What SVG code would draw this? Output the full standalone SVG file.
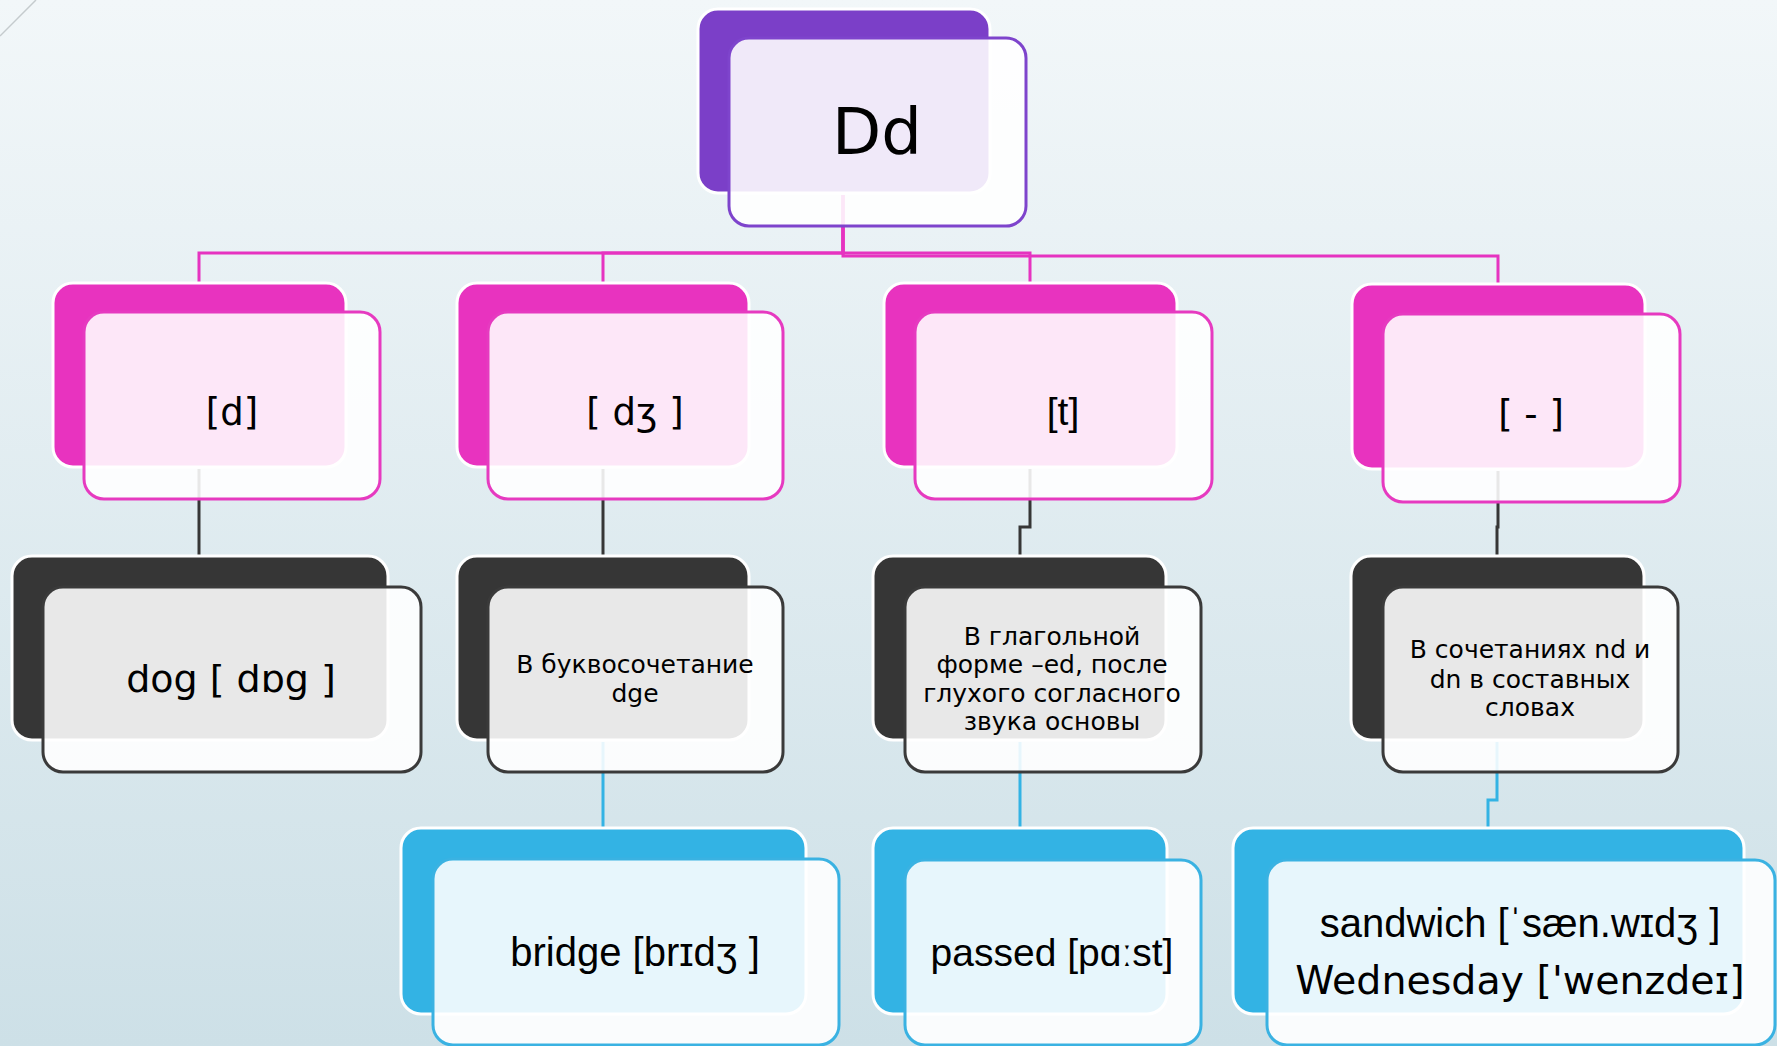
<svg xmlns="http://www.w3.org/2000/svg" width="1777" height="1046" viewBox="0 0 1777 1046">
<defs>
<linearGradient id="bg" x1="0" y1="0" x2="0" y2="1">
<stop offset="0" stop-color="#f2f7f9"/>
<stop offset="1" stop-color="#cde0e7"/>
</linearGradient>
<style>
.back{stroke:#ffffff;stroke-width:3}
.front{fill:#ffffff;fill-opacity:0.885;stroke-width:3}
.purple .back{fill:#7b3fc8}
.purple .front{stroke:#7e44cc}
.pink .back{fill:#e833bf}
.pink .front{stroke:#e63ac0}
.dark .back{fill:#363636}
.dark .front{stroke:#3a3a3a}
.blue .back{fill:#33b3e4}
.blue .front{stroke:#3ab2e2}
.g{font-family:"DejaVu Sans","Noto Sans",sans-serif;fill:#000;text-anchor:middle}
.a{font-family:"Liberation Sans",Arial,"DejaVu Sans",sans-serif;fill:#000;text-anchor:middle}
.small{font-size:25px}
.conn{fill:none;stroke-width:3}
.cm{stroke:#e633c0}
.cd{stroke:#363636}
.cb{stroke:#33b3e4}
</style>
</defs>
<rect x="0" y="0" width="1777" height="1046" fill="url(#bg)"/>
<line x1="0" y1="36" x2="36" y2="0" stroke="#c5cbce" stroke-width="1.5"/>

<g id="connectors">
<path class="conn cm" d="M843,195 V253 H199 V283"/>
<path class="conn cm" d="M843,195 V253 H603 V283"/>
<path class="conn cm" d="M843,195 V253 H1030 V283"/>
<path class="conn cm" d="M843,195 V256 H1498 V284"/>
<path class="conn cd" d="M199,469 V556"/>
<path class="conn cd" d="M603,469 V556"/>
<path class="conn cd" d="M1030,469 V527 H1020 V556"/>
<path class="conn cd" d="M1498,471 V527 H1497 V556"/>
<path class="conn cb" d="M603,742 V828"/>
<path class="conn cb" d="M1020,742 V828"/>
<path class="conn cb" d="M1497,742 V800 H1488 V828"/>
</g>

<g id="node-Dd" class="purple">
<rect class="back" x="698" y="9" width="292" height="184" rx="20"/>
<rect class="front" x="729" y="38" width="297" height="188" rx="20"/>
<text class="g" x="877" y="154" font-size="64">Dd</text>
</g>

<g id="node-d" class="pink">
<rect class="back" x="53" y="283" width="293" height="184" rx="20"/>
<rect class="front" x="84" y="312" width="296" height="187" rx="20"/>
<text class="g" x="232" y="425" font-size="37">[d]</text>
</g>

<g id="node-dzh" class="pink">
<rect class="back" x="457" y="283" width="292" height="184" rx="20"/>
<rect class="front" x="488" y="312" width="295" height="187" rx="20"/>
<text class="g" x="635" y="425" font-size="37">[ dʒ ]</text>
</g>

<g id="node-t" class="pink">
<rect class="back" x="884" y="283" width="293" height="184" rx="20"/>
<rect class="front" x="915" y="312" width="297" height="187" rx="20"/>
<text class="a" x="1063" y="425" font-size="39">[t]</text>
</g>

<g id="node-none" class="pink">
<rect class="back" x="1352" y="284" width="293" height="185" rx="20"/>
<rect class="front" x="1383" y="314" width="297" height="188" rx="20"/>
<text class="g" x="1531" y="427" font-size="37">[ - ]</text>
</g>

<g id="node-dog" class="dark">
<rect class="back" x="12" y="556" width="376" height="184" rx="20"/>
<rect class="front" x="43" y="587" width="378" height="185" rx="20"/>
<text class="g" x="231" y="692" font-size="38">dog [ dɒg ]</text>
</g>

<g id="node-dge" class="dark">
<rect class="back" x="457" y="556" width="292" height="184" rx="20"/>
<rect class="front" x="488" y="587" width="295" height="185" rx="20"/>
<text class="g small" x="635" y="673">В буквосочетание</text>
<text class="g small" x="635" y="702">dge</text>
</g>

<g id="node-ed" class="dark">
<rect class="back" x="873" y="556" width="293" height="184" rx="20"/>
<rect class="front" x="905" y="587" width="296" height="185" rx="20"/>
<text class="g small" x="1052" y="645">В глагольной</text>
<text class="g small" x="1052" y="673">форме –ed, после</text>
<text class="g small" x="1052" y="702">глухого согласного</text>
<text class="g small" x="1052" y="730">звука основы</text>
</g>

<g id="node-nd" class="dark">
<rect class="back" x="1351" y="556" width="293" height="184" rx="20"/>
<rect class="front" x="1383" y="587" width="295" height="185" rx="20"/>
<text class="g small" x="1530" y="658">В сочетаниях nd и</text>
<text class="g small" x="1530" y="688">dn в составных</text>
<text class="g small" x="1530" y="716">словах</text>
</g>

<g id="node-bridge" class="blue">
<rect class="back" x="401" y="828" width="405" height="186" rx="20"/>
<rect class="front" x="433" y="859" width="406" height="186" rx="20"/>
<text class="a" x="635" y="966" font-size="40">bridge [brɪdʒ ]</text>
</g>

<g id="node-passed" class="blue">
<rect class="back" x="873" y="828" width="294" height="186" rx="20"/>
<rect class="front" x="905" y="860" width="296" height="185" rx="20"/>
<text class="a" x="1052" y="966" font-size="39">passed [pɑːst]</text>
</g>

<g id="node-sandwich" class="blue">
<rect class="back" x="1233" y="828" width="511" height="186" rx="20"/>
<rect class="front" x="1267" y="860" width="508" height="185" rx="20"/>
<text class="a" x="1520" y="937" font-size="40">sandwich [ˈsæn.wɪdʒ ]</text>
<text class="g" x="1520" y="994" font-size="39.5">Wednesday ['wenzdeɪ]</text>
</g>
</svg>
